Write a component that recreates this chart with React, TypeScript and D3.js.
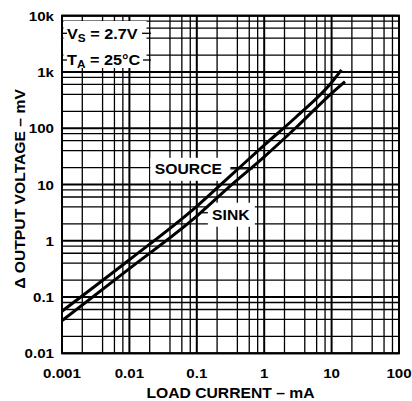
import * as React from "react";
import * as d3 from "d3";

// load current (mA) vs delta output voltage (mV)
const sourceCurrent = [0.001, 0.01, 0.1, 0.3, 1, 3, 10, 14];
const sourceVoltage = [0.056, 0.46, 4.1, 13.5, 50, 160, 650, 1090];
const sinkCurrent = [0.001, 0.01, 0.1, 0.3, 1, 3, 10, 15.8];
const sinkVoltage = [0.038, 0.32, 2.75, 9, 31, 104, 417, 673];

const xTicks = [0.001, 0.01, 0.1, 1, 10, 100];
const xTickLabels = ["0.001", "0.01", "0.1", "1", "10", "100"];
const yTicks = [0.01, 0.1, 1, 10, 100, 1000, 10000];
const yTickLabels = ["0.01", "0.1", "1", "10", "100", "1k", "10k"];
const minorSteps = [2, 4, 6, 8];

const width = 412;
const height = 401;
const left = 62;
const right = 399;
const top = 15.7;
const bottom = 353.3;
const font = '"Liberation Sans", Arial, sans-serif';
const stretch = 1.12; // reference type is a bit wider than Arial

function Label(props: {
  x: number;
  y: number;
  size: number;
  anchor?: string;
  rotate?: number;
  children: React.ReactNode;
}) {
  const rot = props.rotate ? ` rotate(${props.rotate})` : "";
  return (
    <text
      transform={`translate(${props.x},${props.y})${rot} scale(${stretch},1)`}
      fontSize={props.size}
      textAnchor={props.anchor ?? "start"}
    >
      {props.children}
    </text>
  );
}

export default function App() {
  const x = d3.scaleLog().domain([0.001, 100]).range([left, right]);
  const y = d3.scaleLog().domain([0.01, 10000]).range([bottom, top]);

  const line = d3
    .line<[number, number]>()
    .x((d) => x(d[0]))
    .y((d) => y(d[1]))
    .curve(d3.curveMonotoneX);

  const source = sourceCurrent.map((c, i) => [c, sourceVoltage[i]] as [number, number]);
  const sink = sinkCurrent.map((c, i) => [c, sinkVoltage[i]] as [number, number]);

  const xMinor: number[] = [];
  xTicks.slice(0, -1).forEach((d) => minorSteps.forEach((m) => xMinor.push(d * m)));
  const yMinor: number[] = [];
  yTicks.slice(0, -1).forEach((d) => minorSteps.forEach((m) => yMinor.push(d * m)));

  // annotation anchors
  const srcX = x(0.075);
  const srcY = y(19);
  const sinkX = x(0.32);
  const sinkY = y(2.9);

  return (
    <svg
      width={width}
      height={height}
      style={{ position: "absolute", left: 0, top: 0, background: "#fff" }}
      fontFamily={font}
      fontWeight="bold"
    >
      {/* minor grid */}
      <g stroke="#000" strokeWidth={1.3}>
        {xMinor.map((d) => (
          <line key={"xm" + d} x1={x(d)} x2={x(d)} y1={top} y2={bottom} />
        ))}
        {yMinor.map((d) => (
          <line key={"ym" + d} x1={left} x2={right} y1={y(d)} y2={y(d)} />
        ))}
      </g>
      {/* decade grid */}
      <g stroke="#000" strokeWidth={2}>
        {xTicks.map((d) => (
          <line key={"xd" + d} x1={x(d)} x2={x(d)} y1={top} y2={bottom} />
        ))}
        {yTicks.map((d) => (
          <line key={"yd" + d} x1={left} x2={right} y1={y(d)} y2={y(d)} />
        ))}
      </g>
      <rect x={left} y={top} width={right - left} height={bottom - top} fill="none" stroke="#000" strokeWidth={2} />

      {/* conditions box */}
      <rect x={left + 1.5} y={21} width={83} height={47} fill="#fff" />
      <g stroke="#000" strokeWidth={1.3}>
        <line x1={left} x2={67} y1={33.3} y2={33.3} />
        <line x1={left} x2={67} y1={60} y2={60} />
        <line x1={142} x2={151} y1={33.3} y2={33.3} />
        <line x1={143} x2={151} y1={60} y2={60} />
      </g>
      <Label x={67} y={38.5} size={14.5}>
        V<tspan fontSize={10.5} dy={3}>S</tspan>
        <tspan dy={-3}> = 2.7V</tspan>
      </Label>
      <Label x={67} y={64.5} size={14.5}>
        T<tspan fontSize={10.5} dy={3}>A</tspan>
        <tspan dy={-3}> = 25°C</tspan>
      </Label>

      {/* curve labels */}
      <rect x={srcX - 38} y={srcY - 11} width={80} height={23} fill="#fff" />
      <line x1={srcX + 42} x2={x(0.68)} y1={srcY} y2={srcY} stroke="#000" strokeWidth={1.3} />
      <Label x={srcX} y={srcY + 5} size={14} anchor="middle">
        SOURCE
      </Label>
      <rect x={sinkX - 23} y={sinkY - 12} width={47} height={24} fill="#fff" />
      <line x1={sinkX - 29} x2={sinkX - 23} y1={sinkY - 2} y2={sinkY - 2} stroke="#000" strokeWidth={1.3} />
      <Label x={sinkX} y={sinkY + 5} size={14} anchor="middle">
        SINK
      </Label>

      {/* curves */}
      <path d={line(source) ?? ""} fill="none" stroke="#000" strokeWidth={3} />
      <path d={line(sink) ?? ""} fill="none" stroke="#000" strokeWidth={3} />

      {/* tick labels */}
      {yTicks.map((d, i) => (
        <Label key={"yl" + d} x={54} y={y(d) + 5} size={13.5} anchor="end">
          {yTickLabels[i]}
        </Label>
      ))}
      {xTicks.map((d, i) => (
        <Label key={"xl" + d} x={x(d)} y={378} size={13.5} anchor="middle">
          {xTickLabels[i]}
        </Label>
      ))}

      {/* axis titles */}
      <Label x={(left + right) / 2} y={398} size={14} anchor="middle">
        LOAD CURRENT – mA
      </Label>
      <Label x={25} y={189} size={14} anchor="middle" rotate={-90}>
        Δ OUTPUT VOLTAGE – mV
      </Label>
    </svg>
  );
}
